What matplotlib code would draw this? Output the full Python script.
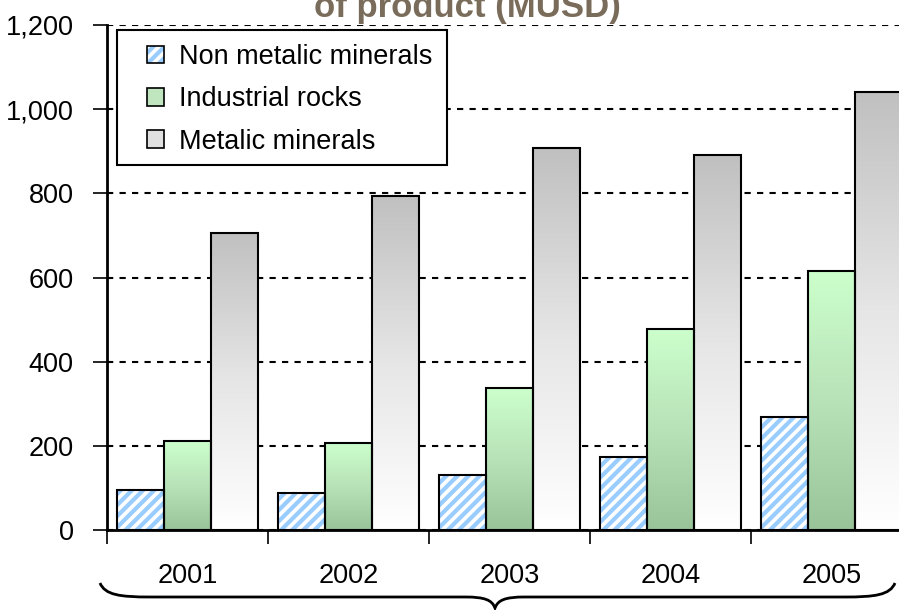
import numpy as np
import matplotlib
matplotlib.use('Agg')
import matplotlib.pyplot as plt
from matplotlib.patches import Patch, PathPatch, Rectangle
from matplotlib.path import Path
from matplotlib.colors import LinearSegmentedColormap
from matplotlib.legend_handler import HandlerTuple

plt.rcParams['font.family'] = ['Liberation Sans', 'DejaVu Sans']
plt.rcParams['hatch.linewidth'] = 3.0

# data
anos = ['2001', '2002', '2003', '2004', '2005']
nao_metalicos = [95, 87, 131, 173, 268]
rochas = [211, 207, 337, 478, 615]
metalicos = [706, 794, 908, 891, 1041]
series = ['Non metalic minerals', 'Industrial rocks', 'Metalic minerals']
titulo = 'of product (MUSD)'

W, H = 899, 610
fig = plt.figure(figsize=(W / 100, H / 100), dpi=100)
ax = fig.add_axes([107 / W, 80 / H, 805 / W, 505 / H])

x = np.arange(len(anos))
w = 0.292
fs = 19.5

cm_verde = LinearSegmentedColormap.from_list('verde', ['#99c399', '#b8e2b8', '#ccffcc'])
cm_cinza = LinearSegmentedColormap.from_list('cinza', ['#ffffff', '#e6e6e6', '#c0c0c0'])
grad = np.linspace(0, 1, 256).reshape(-1, 1)

# barras hachuradas
ax.bar(x - w, nao_metalicos, w, color='white', edgecolor='#99ccff',
       hatch='///', linewidth=0, zorder=2)
ax.bar(x - w, nao_metalicos, w, fill=False, edgecolor='black', linewidth=1.5, zorder=4)

# barras com gradiente
for vals, off, cmap in [(rochas, 0, cm_verde), (metalicos, w, cm_cinza)]:
    bars = ax.bar(x + off, vals, w, fill=False, edgecolor='black', linewidth=1.5, zorder=4)
    for r in bars:
        x0, y0 = r.get_x(), r.get_y()
        ax.imshow(grad, extent=[x0, x0 + r.get_width(), y0, y0 + r.get_height()],
                  origin='lower', aspect='auto', cmap=cmap, zorder=3)

ax.set_xlim(-0.5, 4.5)
ax.set_ylim(0, 1200)
ax.set_yticks(np.arange(0, 1201, 200))
ax.set_yticklabels([f'{v:,}' for v in range(0, 1201, 200)])
ax.yaxis.grid(True, color='black', linestyle=(0, (3, 3)), linewidth=1.5, zorder=1)
ax.set_axisbelow(True)

ax.set_xticks(np.arange(-0.5, 5, 1))
ax.set_xticklabels([])
ax.set_xticks(x, minor=True)
ax.set_xticklabels(anos, minor=True)
ax.tick_params(axis='x', which='major', direction='out', length=10, width=1.2)
ax.tick_params(axis='x', which='minor', length=0, pad=24, labelsize=fs)
ax.tick_params(axis='y', direction='out', length=10, width=1.2, pad=14, labelsize=fs)

for s in ['top', 'right']:
    ax.spines[s].set_visible(False)
for s in ['left', 'bottom']:
    ax.spines[s].set_linewidth(2)

# legenda
ax.add_patch(Rectangle((0.0124, 0.7228), 0.41, 0.2672, transform=ax.transAxes,
                       facecolor='white', edgecolor='black', linewidth=1.5, zorder=5))
h_hatch = (Patch(facecolor='white', edgecolor='#99ccff', hatch='///', linewidth=0),
           Patch(fill=False, edgecolor='black', linewidth=1.2))
handles = [h_hatch,
           Patch(facecolor='#c0e6c0', edgecolor='black', linewidth=1.2),
           Patch(facecolor='#e0e0e0', edgecolor='black', linewidth=1.2)]
leg = ax.legend(handles, series, loc='upper left', bbox_to_anchor=(0.0497, 0.962),
                fontsize=fs, frameon=False, borderpad=0, borderaxespad=0,
                handlelength=0.62, handleheight=0.62, handletextpad=0.55,
                labelspacing=0.6, handler_map={tuple: HandlerTuple(ndivide=1, pad=0)})
leg.set_zorder(10)

# titulo (cortado no topo)
fig.text(467 / W, 1 - 17 / H, titulo, ha='center', va='baseline', fontsize=25,
         fontweight='bold', color='#7a6c5a')

# chave sob as categorias
bx = fig.add_axes([0, 0, 1, 1], facecolor='none')
bx.set_xlim(0, W)
bx.set_ylim(H, 0)
bx.axis('off')
verts = [(100, 583), (105, 595), (120, 597), (150, 597),
         (465, 597),
         (485, 597), (492, 600), (495, 608),
         (498, 600), (505, 597), (525, 597),
         (845, 597),
         (875, 597), (890, 595), (895, 583)]
codes = [Path.MOVETO, Path.CURVE4, Path.CURVE4, Path.CURVE4,
         Path.LINETO,
         Path.CURVE4, Path.CURVE4, Path.CURVE4,
         Path.CURVE4, Path.CURVE4, Path.CURVE4,
         Path.LINETO,
         Path.CURVE4, Path.CURVE4, Path.CURVE4]
bx.add_patch(PathPatch(Path(verts, codes), fill=False, edgecolor='black', linewidth=2))

fig.savefig('out.png', dpi=100)
